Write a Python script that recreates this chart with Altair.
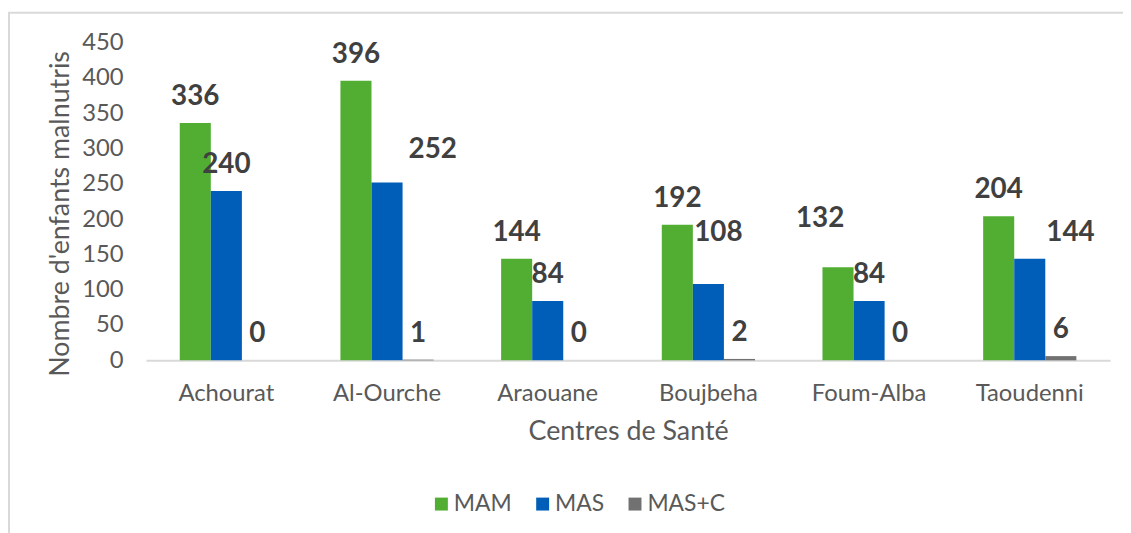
import altair as alt
import pandas as pd

# ---- data ----
centres = ["Achourat", "Al-Ourche", "Araouane", "Boujbeha", "Foum-Alba", "Taoudenni"]
series = ["MAM", "MAS", "MAS+C"]
mam = [336, 396, 144, 192, 132, 204]
mas = [240, 252, 84, 108, 84, 144]
masc = [0, 1, 0, 2, 0, 6]
y_ticks = [0, 50, 100, 150, 200, 250, 300, 350, 400, 450]

# ---- style ----
colors = ["#52AE32", "#005EB8", "#717171"]
FONT = "Lato"
GREY_TXT = "#595959"
LABEL_TXT = "#404040"

rows = []
for s, vals in zip(series, [mam, mas, masc]):
    for c, v in zip(centres, vals):
        rows.append({"Centre": c, "Serie": s, "Valeur": v})
df = pd.DataFrame(rows)

# label nudges (pixel offsets) for a few data labels moved as in the original
nudges = [
    ("Al-Ourche", "MAS", 46, -7),
    ("Boujbeha", "MAS", 10, -25),
    ("Foum-Alba", "MAM", -18, -22),
    ("Taoudenni", "MAS", 41, 0),
]

x_enc = alt.X(
    "Centre:N",
    sort=centres,
    scale=alt.Scale(paddingInner=0.42, paddingOuter=0.21),
    axis=alt.Axis(
        title="Centres de Santé",
        labelAngle=0,
        domainColor="#D9D9D9",
        domainWidth=2,
        ticks=False,
        tickSize=0,
        labelFontSize=24,
        labelColor=GREY_TXT,
        labelPadding=21,
        titleFontSize=27,
        titleFontWeight="normal",
        titleColor=GREY_TXT,
        titlePadding=14,
    ),
)
xo_enc = alt.XOffset("Serie:N", sort=series, scale=alt.Scale(paddingInner=0, paddingOuter=0))
y_enc = alt.Y(
    "Valeur:Q",
    scale=alt.Scale(domain=[0, 450], nice=False),
    axis=alt.Axis(
        title="Nombre d'enfants malnutris",
        values=y_ticks,
        labelOverlap=False,
        grid=False,
        domain=False,
        ticks=False,
        tickSize=0,
        labelFontSize=24,
        labelColor=GREY_TXT,
        labelPadding=23,
        titleFontSize=27,
        titleFontWeight="normal",
        titleColor=GREY_TXT,
        titlePadding=7,
        titleY=172,
    ),
)
color_enc = alt.Color(
    "Serie:N",
    sort=series,
    scale=alt.Scale(domain=series, range=colors),
    legend=alt.Legend(
        title=None,
        orient="none",
        legendX=286,
        legendY=453,
        direction="horizontal",
        symbolType="square",
        symbolSize=170,
        symbolStrokeWidth=0,
        labelFontSize=23,
        labelColor=GREY_TXT,
        labelOffset=1,
        columnPadding=19,
        padding=0,
    ),
)

base = alt.Chart(df)

border = base.mark_rect(fill="transparent", stroke="#D9D9D9", strokeWidth=2).encode(
    x=alt.value(-138), x2=alt.value(990), y=alt.value(-30), y2=alt.value(510)
).transform_filter("datum.Centre == 'Achourat' && datum.Serie == 'MAM'")

bars = base.mark_bar().encode(x=x_enc, xOffset=xo_enc, y=y_enc, color=color_enc)

text_props = dict(fontSize=28, fontWeight="bold", color=LABEL_TXT, baseline="alphabetic", font=FONT)

excl = " && ".join(
    f"!(datum.Centre == '{c}' && datum.Serie == '{s}')" for c, s, _, _ in nudges
)
labels = base.mark_text(dy=-18, **text_props).encode(
    x=x_enc, xOffset=xo_enc, y=y_enc, text="Valeur:Q"
).transform_filter(excl)

layers = [border, bars, labels]
for c, s, ddx, ddy in nudges:
    layers.append(
        base.mark_text(dx=ddx, dy=-18 + ddy, **text_props).encode(
            x=x_enc, xOffset=xo_enc, y=y_enc, text="Valeur:Q"
        ).transform_filter(f"datum.Centre == '{c}' && datum.Serie == '{s}'")
    )

chart = alt.layer(*layers).properties(
    width=971,
    height=320,
    autosize=alt.AutoSizeParams(type="none"),
    padding={"left": 139, "top": 33, "right": 13, "bottom": 172},
).configure(font=FONT).configure_view(stroke=None)

chart.save("out.html", embed_options={"renderer": "svg", "actions": False})
